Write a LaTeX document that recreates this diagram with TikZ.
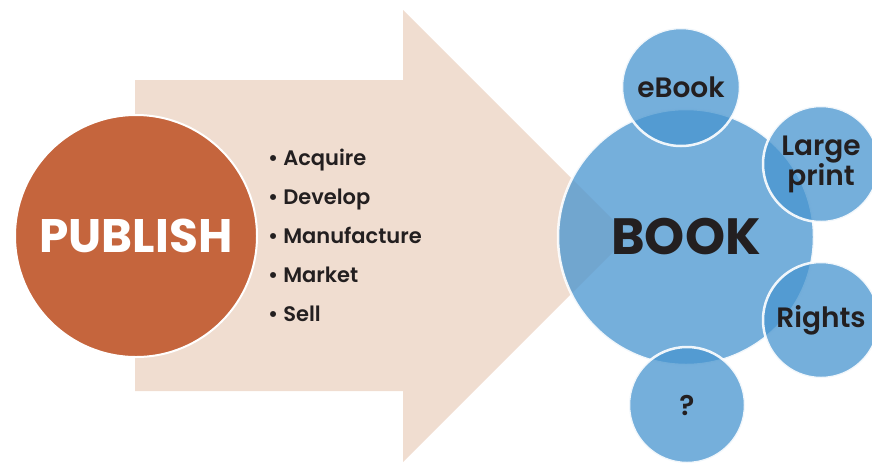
\documentclass[tikz,border=0pt]{standalone}
\usepackage{fontspec}
\setmainfont{Poppins}[UprightFont=* SemiBold, BoldFont=* Bold]
\definecolor{arrowc}{RGB}{240,221,208}
\definecolor{pubc}{RGB}{197,101,61}
\definecolor{bluec}{RGB}{71,148,207}
\definecolor{txt}{RGB}{35,31,32}
\begin{document}
\begin{tikzpicture}[x=1pt,y=-1pt,
  bub/.style={circle, inner sep=0pt, fill=bluec, fill opacity=0.75, text opacity=1, draw=white, draw opacity=0.9, line width=2.5pt, text=txt, align=center, font=\fontsize{28}{30}\selectfont},
  ]
\useasboundingbox (0,0) rectangle (872,464);
% arrow
\fill[arrowc] (135,80) -- (403,80) -- (403,10) -- (629,236) -- (403,462) -- (403,391) -- (135,391) -- cycle;
% publish
\node[circle, inner sep=0pt, minimum size=242pt, fill=pubc, draw=white, line width=2pt, text=white, font=\bfseries\fontsize{47}{47}\selectfont] (pub) at (136,236) {PUBLISH};
% list
\node[anchor=north west, inner sep=0pt, align=left, text=txt, font=\fontsize{21}{39}\selectfont] (list) at (268,149) {%
• Acquire\\ • Develop\\ • Manufacture\\ • Market\\ • Sell};
% book
\node[bub, minimum size=256pt, font=\bfseries\fontsize{51}{51}\selectfont] (book) at (686,237) {BOOK};
\node[bub, minimum size=118pt] (ebook) at (681,87) {eBook};
\node[bub, minimum size=116pt] (large) at (821,164) {Large\\print};
\node[bub, minimum size=116pt] (rights) at (821,320) {Rights};
\node[bub, minimum size=116pt] (q) at (687,405) {?};
\end{tikzpicture}
\end{document}
